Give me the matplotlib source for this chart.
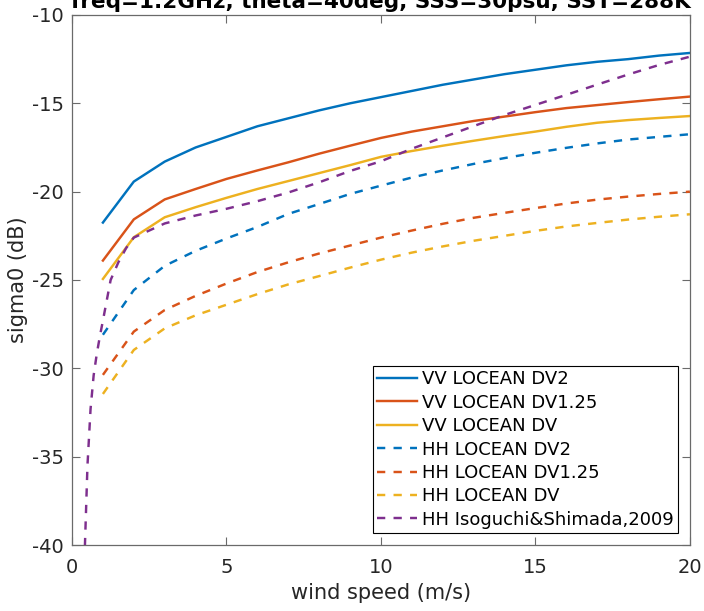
import matplotlib
matplotlib.use("Agg")
import matplotlib.pyplot as plt

# wind speed (m/s)
wind = [1, 2, 3, 4, 5, 6, 7, 8, 9, 10,
        11, 12, 13, 14, 15, 16, 17, 18, 19, 20]

# sigma0 (dB)
vv_dv2 = [-21.75, -19.43, -18.3, -17.5, -16.9, -16.3, -15.85, -15.4, -15.0, -14.65,
          -14.3, -13.95, -13.65, -13.35, -13.1, -12.85, -12.65, -12.5, -12.3, -12.15]
vv_dv125 = [-23.9, -21.57, -20.44, -19.85, -19.28, -18.8, -18.34, -17.85, -17.4, -16.96,
            -16.6, -16.3, -16.0, -15.75, -15.5, -15.27, -15.1, -14.93, -14.77, -14.62]
vv_dv = [-24.94, -22.58, -21.45, -20.88, -20.35, -19.85, -19.4, -18.95, -18.5, -18.03,
         -17.7, -17.4, -17.12, -16.85, -16.6, -16.33, -16.1, -15.95, -15.83, -15.72]
hh_dv2 = [-28.1, -25.57, -24.2, -23.35, -22.65, -22.0, -21.26, -20.7, -20.13, -19.66,
          -19.2, -18.8, -18.43, -18.1, -17.8, -17.52, -17.27, -17.05, -16.9, -16.75]
hh_dv125 = [-30.37, -27.92, -26.7, -25.9, -25.2, -24.55, -24.0, -23.5, -23.05, -22.6,
            -22.2, -21.82, -21.48, -21.2, -20.93, -20.67, -20.45, -20.28, -20.13, -20.0]
hh_dv = [-31.45, -28.96, -27.74, -27.0, -26.4, -25.8, -25.25, -24.78, -24.3, -23.85,
         -23.45, -23.1, -22.78, -22.5, -22.22, -21.97, -21.77, -21.58, -21.42, -21.28]

# Isoguchi & Shimada curve is drawn on a finer grid near zero
wind_iso = [0.4, 0.5, 0.6, 0.7, 0.8, 0.9, 1.0, 1.25, 1.5, 1.75, 2,
            3, 4, 5, 6, 7, 8, 9, 10,
            11, 12, 13, 14, 15, 16, 17, 18, 19, 20]
hh_iso = [-41.0, -35.5, -32.3, -30.4, -29.2, -28.2, -27.3, -25.0, -24.0, -23.2, -22.6,
          -21.8, -21.35, -20.97, -20.54, -20.05, -19.47, -18.83, -18.28,
          -17.57, -16.93, -16.29, -15.66, -15.09, -14.52, -13.94, -13.37, -12.83, -12.36]

labels = [
    "VV LOCEAN DV2",
    "VV LOCEAN DV1.25",
    "VV LOCEAN DV",
    "HH LOCEAN DV2",
    "HH LOCEAN DV1.25",
    "HH LOCEAN DV",
    "HH Isoguchi&Shimada,2009",
]

blue = "#0072BD"
orange = "#D95319"
yellow = "#EDB120"
purple = "#7E2F8E"
txtcol = "#262626"
spinecol = "#6a6a6a"
dash = (0, (3.4, 3.4))
lw = 1.75

fig = plt.figure(figsize=(7.04, 6.11), dpi=100)
ax = fig.add_axes([0.1023, 0.108, 0.8777, 0.8675])

ax.plot(wind, vv_dv2, color=blue, lw=lw, label=labels[0])
ax.plot(wind, vv_dv125, color=orange, lw=lw, label=labels[1])
ax.plot(wind, vv_dv, color=yellow, lw=lw, label=labels[2])
ax.plot(wind, hh_dv2, color=blue, lw=lw, linestyle=dash, label=labels[3])
ax.plot(wind, hh_dv125, color=orange, lw=lw, linestyle=dash, label=labels[4])
ax.plot(wind, hh_dv, color=yellow, lw=lw, linestyle=dash, label=labels[5])
ax.plot(wind_iso, hh_iso, color=purple, lw=lw, linestyle=dash, label=labels[6])

ax.set_xlim(0, 20)
ax.set_ylim(-40, -10)
ax.set_xticks([0, 5, 10, 15, 20])
ax.set_yticks([-40, -35, -30, -25, -20, -15, -10])
ax.set_yticklabels(["-40", "-35", "-30", "-25", "-20", "-15", "-10"])

ax.tick_params(
    direction="in",
    top=True,
    right=True,
    length=6,
    width=0.8,
    color=spinecol,
    labelcolor=txtcol,
    labelsize=14
)
ax.tick_params(axis="x", pad=9)
ax.tick_params(axis="y", pad=6)

for s in ax.spines.values():
    s.set_color(spinecol)
    s.set_linewidth(0.9)

ax.set_xlabel("wind speed (m/s)", fontsize=15, color=txtcol, labelpad=5)
ax.set_ylabel("sigma0 (dB)", fontsize=15, color=txtcol, labelpad=3)

ax.set_title(
    "freq=1.2GHz, theta=40deg, SSS=30psu, SST=288K",
    fontsize=15.5,
    fontweight="bold",
    color="black",
    pad=5
)

leg = ax.legend(
    loc="lower right",
    fontsize=13,
    frameon=True,
    fancybox=False,
    framealpha=1,
    edgecolor="black",
    handlelength=2.2,
    handletextpad=0.28,
    labelspacing=0.3,
    borderpad=0.25,
    borderaxespad=0.65
)
leg.get_frame().set_linewidth(0.8)

fig.savefig("out.png", dpi=100)
